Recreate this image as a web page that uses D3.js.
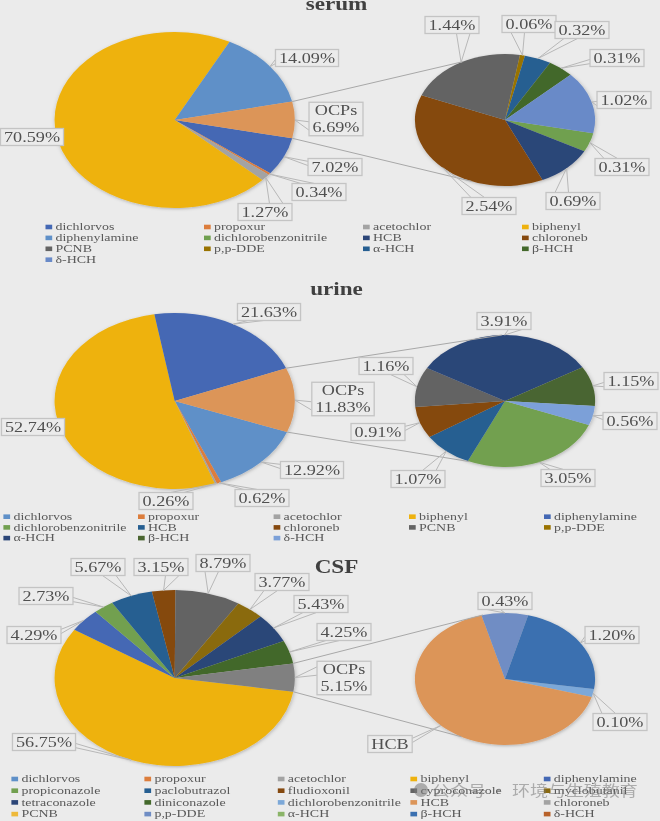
<!DOCTYPE html>
<html>
<head>
<meta charset="utf-8">
<script src="https://cdn.jsdelivr.net/npm/d3@7"></script>
<style>
  html, body { margin: 0; padding: 0; background: #ebebeb; }
  svg { display: block; filter: blur(0.55px); }
  text { font-family: "Liberation Serif", serif; }
</style>
</head>
<body>
<div id="chart"></div>
<script>
// serum values
var serumMainNames = ["dichlorvos", "propoxur", "acetochlor", "biphenyl", "diphenylamine", "OCPs"];
var serumMainValues = [7.02, 0.34, 1.27, 70.59, 14.09, 6.69];
var serumOcpNames = ["dichlorobenzonitrile", "HCB", "chloroneb", "PCNB", "p,p-DDE", "α-HCH", "β-HCH", "δ-HCH"];
var serumOcpValues = [0.31, 0.69, 2.54, 1.44, 0.06, 0.32, 0.31, 1.02];
var serumLegend = ["dichlorvos", "propoxur", "acetochlor", "biphenyl", "diphenylamine", "dichlorobenzonitrile", "HCB", "chloroneb", "PCNB", "p,p-DDE", "α-HCH", "β-HCH", "δ-HCH"];

// urine values
var urineMainNames = ["dichlorvos", "propoxur", "acetochlor", "biphenyl", "diphenylamine", "OCPs"];
var urineMainValues = [12.92, 0.62, 0.26, 52.74, 21.63, 11.83];
var urineOcpNames = ["dichlorobenzonitrile", "HCB", "chloroneb", "PCNB", "α-HCH", "β-HCH", "δ-HCH"];
var urineOcpValues = [3.05, 1.07, 0.91, 1.16, 3.91, 1.15, 0.56];
var urineLegend = ["dichlorvos", "propoxur", "acetochlor", "biphenyl", "diphenylamine", "dichlorobenzonitrile", "HCB", "chloroneb", "PCNB", "p,p-DDE", "α-HCH", "β-HCH", "δ-HCH"];

// CSF values
var csfMainNames = ["biphenyl", "diphenylamine", "propiconazole", "paclobutrazol", "fludioxonil", "cyproconazole", "myclobutanil", "tetraconazole", "diniconazole", "OCPs"];
var csfMainValues = [56.75, 4.29, 2.73, 5.67, 3.15, 8.79, 3.77, 5.43, 4.25, 5.15];
var csfOcpNames = ["dichlorobenzonitrile", "HCB", "p,p-DDE", "β-HCH"];
var csfOcpValues = [0.10, 3.42, 0.43, 1.20];
var csfLegend = ["dichlorvos", "propoxur", "acetochlor", "biphenyl", "diphenylamine", "propiconazole", "paclobutrazol", "fludioxonil", "cyproconazole", "myclobutanil", "tetraconazole", "diniconazole", "dichlorobenzonitrile", "HCB", "chloroneb", "PCNB", "p,p-DDE", "α-HCH", "β-HCH", "δ-HCH"];

// colours by panel and compound
var serumColors = {
    "dichlorvos": "#4468b4", "propoxur": "#dc7d3c", "acetochlor": "#a3a3a3", "biphenyl": "#eeb20f",
    "diphenylamine": "#5f90c8", "OCPs": "#dc9559", "dichlorobenzonitrile": "#70a050", "HCB": "#2c4678",
    "chloroneb": "#85490f", "PCNB": "#636363", "p,p-DDE": "#997300", "α-HCH": "#255e91",
    "β-HCH": "#43682b", "δ-HCH": "#698ac8"
};
var urineColors = {
    "dichlorvos": "#5f90c8", "propoxur": "#dc7d3c", "acetochlor": "#a3a3a3", "biphenyl": "#eeb20f",
    "diphenylamine": "#4468b4", "OCPs": "#dc9559", "dichlorobenzonitrile": "#72a050", "HCB": "#255e91",
    "chloroneb": "#85490f", "PCNB": "#636363", "p,p-DDE": "#997300", "α-HCH": "#2c4678",
    "β-HCH": "#4a6530", "δ-HCH": "#7ba0d8"
};
var csfColors = {
    "dichlorvos": "#5f90c8", "propoxur": "#dc7d3c", "acetochlor": "#a3a3a3", "biphenyl": "#eeb20f",
    "diphenylamine": "#4468b4", "propiconazole": "#72a050", "paclobutrazol": "#255e91", "fludioxonil": "#85490f",
    "cyproconazole": "#636363", "myclobutanil": "#8a6a10", "tetraconazole": "#2c4678", "diniconazole": "#43682b",
    "OCPs": "#808080", "dichlorobenzonitrile": "#7ca8d8", "HCB": "#dc9559", "chloroneb": "#a3a3a3",
    "PCNB": "#eeb93a", "p,p-DDE": "#6f8dc4", "α-HCH": "#8ab468", "β-HCH": "#3a70b0", "δ-HCH": "#b8622a"
};

// layout: label box centres, in slice order
var serumMainBoxes = [[335, 167], [319, 192], [265, 212], [32, 137], [307, 58], [336, 119]];
var serumOcpBoxes = [[622, 167], [573, 201], [489, 206], [452, 25], [529, 24], [582, 30], [617, 58], [624, 100]];
var urineMainBoxes = [[312, 470], [262, 498], [166, 501], [33, 427], [269, 312], [343, 399]];
var urineOcpBoxes = [[568, 478], [418, 479], [378, 432], [386, 366], [504, 321], [631, 381], [630, 421]];
var csfMainBoxes = [[44, 742], [34, 635], [46, 596], [98, 567], [161, 567], [223, 563], [282, 582], [321, 604], [344, 632], [344, 678]];
var csfOcpBoxes = [[620, 722], [390, 744], [505, 601], [612, 635]];

var width = 660;
var height = 821;
var stretch = 1.365; // pies in the source figure are wider than tall
var textStretch = 1.3; // the text is stretched a little less
var mainRadius = 88;
var ocpRadius = 66;
var fullCircle = 2 * Math.PI;
var percent = d3.format(".2f");

var svg = d3.select("#chart").append("svg")
    .attr("width", width)
    .attr("height", height);

svg.append("rect")
    .attr("width", width)
    .attr("height", height)
    .attr("fill", "#ebebeb");

var defs = svg.append("defs");
var shadow = defs.append("filter").attr("id", "pieShadow");
shadow.append("feDropShadow")
    .attr("dx", 0.5)
    .attr("dy", 1)
    .attr("stdDeviation", 1.5)
    .attr("flood-color", "#000")
    .attr("flood-opacity", 0.25);

function rad(deg) {
    return deg * Math.PI / 180;
}

// screen point on a stretched circle, clockwise from 12 o'clock
function edgePoint(pie, angle, extra) {
    var r = pie.radius + (extra || 0);
    return [pie.cx + stretch * r * Math.sin(angle), pie.cy - r * Math.cos(angle)];
}

function drawPie(pie) {
    var arcs = d3.pie().sort(null)
        .startAngle(rad(pie.start))
        .endAngle(rad(pie.start) + fullCircle)(pie.values);

    var arc = d3.arc().innerRadius(0).outerRadius(pie.radius);

    svg.append("g")
        .attr("transform", `translate(${pie.cx}, ${pie.cy}) scale(${stretch}, 1)`)
        .attr("filter", "url(#pieShadow)")
        .selectAll("path")
        .data(arcs)
        .enter()
        .append("path")
        .attr("d", arc)
        .attr("fill", (d, i) => pie.colors[pie.names[i]]);

    return arcs;
}

function drawLabel(tip, box, lines) {
    var group = svg.append("g");
    var wedge = group.append("path");
    var rect = group.append("rect");

    var lineHeight = 16.5;
    var texts = group.selectAll("text")
        .data(lines)
        .enter()
        .append("text")
        .attr("transform", (d, i) => `translate(${box[0]}, ${box[1] + (i - (lines.length - 1) / 2) * lineHeight + 4.7}) scale(${textStretch}, 1)`)
        .attr("text-anchor", "middle")
        .attr("font-size", 14)
        .attr("fill", "#505050")
        .text(d => d);

    var textWidth = d3.max(texts.nodes(), n => n.getComputedTextLength()) * textStretch;
    var w = textWidth + 7;
    var h = lines.length * lineHeight + 0.5;

    rect.attr("x", box[0] - w / 2)
        .attr("y", box[1] - h / 2)
        .attr("width", w)
        .attr("height", h)
        .attr("fill", "#ebebeb")
        .attr("stroke", "#c4c4c4")
        .attr("stroke-width", 1.3);

    // callout wedge from the box side nearest the slice
    var dx = tip[0] - box[0];
    var dy = tip[1] - box[1];
    var signX = dx > 0 ? 1 : -1;
    var signY = dy > 0 ? 1 : -1;
    var a, b;
    if (Math.abs(dx) / w > Math.abs(dy) / h) {
        a = [box[0] + signX * w / 2, box[1] + signY * h / 12];
        b = [box[0] + signX * w / 2, box[1] + signY * h / 3];
    } else {
        a = [box[0] + signX * w / 12, box[1] + signY * h / 2];
        b = [box[0] + signX * w / 3, box[1] + signY * h / 2];
    }
    wedge.attr("d", d3.line()([a, tip, b]))
        .attr("fill", "none")
        .attr("stroke", "#b8b8b8")
        .attr("stroke-width", 1);
}

function drawLabels(pie, arcs, boxes, textFor) {
    arcs.forEach(function(d, i) {
        var mid = (d.startAngle + d.endAngle) / 2;
        drawLabel(edgePoint(pie, mid, 0), boxes[i], textFor(pie.names[i], d.value));
    });
}

function drawLegend(names, colors, xs, firstRow, rowGap) {
    var legend = svg.append("g");
    var items = legend.selectAll("g")
        .data(names)
        .enter()
        .append("g")
        .attr("transform", (d, i) => `translate(${xs[i % xs.length]}, ${firstRow + Math.floor(i / xs.length) * rowGap})`);

    items.append("rect")
        .attr("x", 0)
        .attr("y", -2.3)
        .attr("width", 6.7)
        .attr("height", 4.6)
        .attr("fill", d => colors[d]);

    items.append("text")
        .attr("transform", `translate(10, 3.3) scale(${textStretch + 0.03}, 1)`)
        .attr("font-size", 10.5)
        .attr("fill", "#595959")
        .text(d => d);
}

function drawPanel(panel) {
    var main = {
        cx: 174.7, cy: panel.cy, radius: mainRadius, start: panel.mainStart,
        names: panel.mainNames, values: panel.mainValues, colors: panel.colors
    };
    var ocp = {
        cx: 505, cy: panel.cy + panel.ocpShift, radius: ocpRadius, start: panel.ocpStart,
        names: panel.ocpNames, values: panel.ocpValues, colors: panel.colors
    };

    var mainArcs = drawPie(main);
    var ocpArcs = drawPie(ocp);

    // connector lines from the OCPs slice to the small pie
    var ocpSlice = mainArcs[mainArcs.length - 1];
    var links = [[ocpSlice.startAngle, panel.linkTop], [ocpSlice.endAngle, panel.linkBottom]];
    links.forEach(function(link) {
        var from = edgePoint(main, link[0]);
        var to = edgePoint(ocp, rad(link[1]));
        svg.append("line")
            .attr("x1", from[0]).attr("y1", from[1])
            .attr("x2", to[0]).attr("y2", to[1])
            .attr("stroke", "#a8a8a8")
            .attr("stroke-width", 1);
    });

    drawLabels(main, mainArcs, panel.mainBoxes, function(name, value) {
        var pct = percent(value) + "%";
        return name === "OCPs" ? ["OCPs", pct] : [pct];
    });
    drawLabels(ocp, ocpArcs, panel.ocpBoxes, function(name, value) {
        return panel.nameOnly === name ? [name] : [percent(value) + "%"];
    });

    svg.append("text")
        .attr("transform", `translate(336.5, ${panel.titleY}) scale(${textStretch}, 1)`)
        .attr("text-anchor", "middle")
        .attr("font-size", 17.8)
        .attr("font-weight", "bold")
        .attr("fill", "#404040")
        .text(panel.title);

    drawLegend(panel.legend, panel.colors, panel.legendX, panel.legendY, panel.legendGap);
}

drawPanel({
    title: "serum", titleY: 10, cy: 120, ocpShift: 0, mainStart: 102, ocpStart: 101.6,
    linkTop: 332, linkBottom: 201.6,
    mainNames: serumMainNames, mainValues: serumMainValues,
    ocpNames: serumOcpNames, ocpValues: serumOcpValues,
    mainBoxes: serumMainBoxes, ocpBoxes: serumOcpBoxes,
    colors: serumColors, legend: serumLegend,
    legendX: [45.5, 204, 363, 522], legendY: 227, legendGap: 10.9
});

drawPanel({
    title: "urine", titleY: 295, cy: 401, ocpShift: 0, mainStart: 110.7, ocpStart: 111.4,
    linkTop: 358, linkBottom: 203.5,
    mainNames: urineMainNames, mainValues: urineMainValues,
    ocpNames: urineOcpNames, ocpValues: urineOcpValues,
    mainBoxes: urineMainBoxes, ocpBoxes: urineOcpBoxes,
    colors: urineColors, legend: urineLegend,
    legendX: [3.4, 138, 273.6, 409, 544], legendY: 516.7, legendGap: 10.7
});

drawPanel({
    title: "CSF", titleY: 572.5, cy: 678, ocpShift: 1, mainStart: 99, ocpStart: 98.8,
    linkTop: 345.8, linkBottom: 209,
    mainNames: csfMainNames, mainValues: csfMainValues,
    ocpNames: csfOcpNames, ocpValues: csfOcpValues,
    mainBoxes: csfMainBoxes, ocpBoxes: csfOcpBoxes, nameOnly: "HCB",
    colors: csfColors, legend: csfLegend,
    legendX: [11.4, 144.4, 277.8, 410.4, 543.8], legendY: 779, legendGap: 11.7
});

// watermark over the CSF legend
var watermark = svg.append("g").attr("opacity", 0.55);
watermark.append("circle")
    .attr("cx", 421)
    .attr("cy", 790)
    .attr("r", 7)
    .attr("fill", "#777");
watermark.append("text")
    .attr("transform", "translate(432, 796) scale(1.2, 1)")
    .attr("font-size", 15)
    .attr("fill", "#777")
    .style("font-family", "'Noto Sans CJK SC'")
    .text("公众号 · 环境与生殖教育");
</script>
</body>
</html>
